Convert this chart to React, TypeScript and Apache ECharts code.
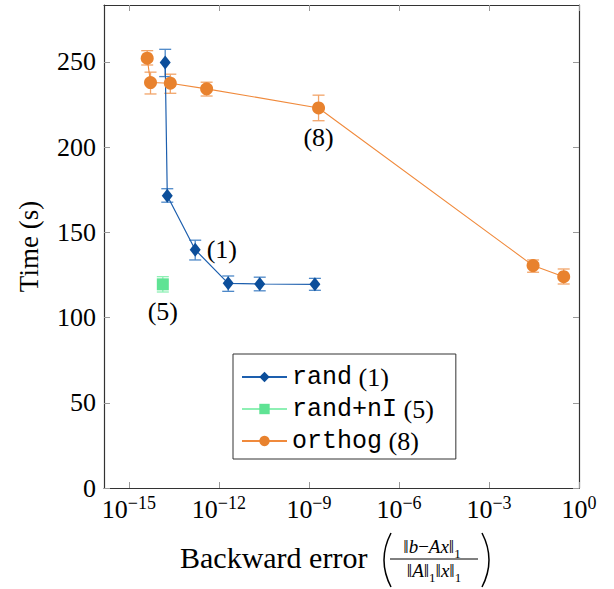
import React, { useEffect, useRef } from 'react';
import * as echarts from 'echarts';

// ---------- data ----------
const xTickExps = [-15, -12, -9, -6, -3, 0];
const yTicks = [0, 50, 100, 150, 200, 250];

const seriesNames = ['rand', 'rand+nI', 'orthog'];
const seriesTags = ['(1)', '(5)', '(8)'];

// rand (1)
const randErr = [1.62e-14, 1.9e-14, 1.62e-13, 2.04e-12, 2.29e-11, 1.58e-9];
const randTime = [249.6, 171.5, 139.8, 120.1, 119.7, 119.5];
const randLow = [241.4, 167.7, 133.8, 115.4, 115.7, 116.0];
const randHigh = [257.4, 175.6, 145.4, 124.4, 123.7, 123.0];
const randTagIndex = 2;

// rand+nI (5)
const randnIErr = [1.35e-14];
const randnITime = [119.5];
const randnILow = [115.0];
const randnIHigh = [124.0];
const randnITagIndex = 0;

// orthog (8)
const orthogErr = [4.07e-15, 5.25e-15, 2.4e-14, 3.89e-13, 2.09e-9, 2.95e-2, 0.309];
const orthogTime = [252.2, 237.9, 237.5, 234.2, 223.0, 130.5, 124.0];
const orthogLow = [248.2, 231.2, 231.6, 230.0, 215.5, 126.6, 119.7];
const orthogHigh = [256.6, 244.0, 242.8, 238.1, 230.5, 133.8, 128.5];
const orthogTagIndex = 4;

const X_MIN = -15.83;
const X_MAX = 0;
const Y_MIN = 0;
const Y_MAX = 283.4;

const SERIF = 'Liberation Serif';
const MONO = 'Liberation Mono';

const BLUE = '#0c4e9a';
const BLUE_LINE = '#1d5fae';
const BLUE_ERR = '#4d88c8';
const GREEN = '#5fe394';
const GREEN_LINE = '#8ef0b4';
const GREEN_ERR = '#8ef0b4';
const ORANGE = '#e8822e';
const ORANGE_LINE = '#f08a3c';
const ORANGE_ERR = '#f2a468';

function errorBars(name: string, xs: number[], lows: number[], highs: number[], color: string) {
  return {
    type: 'custom',
    name,
    xAxisIndex: 0,
    yAxisIndex: 0,
    z: 2,
    silent: true,
    data: xs.map((x, i) => [Math.log10(x), lows[i], highs[i]]),
    encode: { x: 0, y: [1, 2] },
    renderItem: (_params: any, api: any) => {
      const x = api.value(0);
      const lo = api.coord([x, api.value(1)]);
      const hi = api.coord([x, api.value(2)]);
      const hw = 6;
      const st = { stroke: color, lineWidth: 1.3 };
      return {
        type: 'group',
        children: [
          { type: 'line', shape: { x1: lo[0], y1: lo[1], x2: hi[0], y2: hi[1] }, style: st },
          { type: 'line', shape: { x1: lo[0] - hw, y1: lo[1], x2: lo[0] + hw, y2: lo[1] }, style: st },
          { type: 'line', shape: { x1: hi[0] - hw, y1: hi[1], x2: hi[0] + hw, y2: hi[1] }, style: st },
        ],
      };
    },
  };
}

function lineSeries(
  name: string,
  xs: number[],
  ys: number[],
  tagIndex: number,
  tag: string,
  tagPos: string,
  tagDist: number,
  symbol: string,
  symbolSize: any,
  color: string,
  lineColor: string,
  lineWidth: number
) {
  return {
    type: 'line',
    name,
    z: 3,
    symbol,
    symbolSize,
    showSymbol: true,
    lineStyle: { color: lineColor, width: lineWidth },
    itemStyle: { color, borderWidth: 0 },
    emphasis: { disabled: true },
    data: xs.map((x, i) => {
      const item: any = { value: [Math.log10(x), ys[i]] };
      if (i === tagIndex) {
        item.label = {
          show: true,
          position: tagPos,
          distance: tagDist,
          formatter: tag,
          fontSize: 26,
          fontFamily: SERIF,
          color: '#000',
        };
      }
      return item;
    }),
  };
}

const tickColor = '#9a9a9a';
const axisLineStyle = { color: '#333', width: 1.2 };

const fracRich = {
  n: { fontSize: 19, fontFamily: SERIF, fill: '#000', color: '#000', verticalAlign: 'bottom', padding: [0, 0, 4, 0] },
  i: { fontSize: 19, fontFamily: SERIF, fontStyle: 'italic', fill: '#000', color: '#000', verticalAlign: 'bottom', padding: [0, 0, 4, 0] },
  u: { fontSize: 13, fontFamily: SERIF, fill: '#000', color: '#000', verticalAlign: 'bottom' },
};

export default function App() {
  const ref = useRef<HTMLDivElement>(null);

  useEffect(() => {
    if (!ref.current) return;
    const chart = echarts.init(ref.current, undefined, { renderer: 'svg' });

    const tagOf: Record<string, string> = {};
    seriesNames.forEach((n, i) => (tagOf[n] = seriesTags[i]));

    const option: any = {
      animation: false,
      backgroundColor: '#fff',
      textStyle: { fontFamily: SERIF },
      grid: { left: 104, right: 35, top: 5, bottom: 101, containLabel: false },
      xAxis: [
        {
          type: 'value',
          position: 'bottom',
          min: X_MIN,
          max: X_MAX,
          axisLine: { show: true, onZero: false, lineStyle: axisLineStyle },
          axisTick: { show: true, inside: true, length: 6, customValues: xTickExps, lineStyle: { color: tickColor } },
          axisLabel: {
            customValues: xTickExps,
            margin: 6,
            fontFamily: SERIF,
            formatter: (v: number) => {
              const e = Math.round(v);
              return e === 0 ? '{b|10}{s|0}' : `{b|10}{s|\u2212${-e}}`;
            },
            rich: {
              b: { fontSize: 26, fontFamily: SERIF, color: '#000', verticalAlign: 'bottom' },
              s: { fontSize: 18, fontFamily: SERIF, color: '#000', verticalAlign: 'bottom', padding: [0, 0, 10, 0] },
            },
          },
          splitLine: { show: false },
        },
        {
          type: 'value',
          position: 'top',
          min: X_MIN,
          max: X_MAX,
          axisLine: { show: true, onZero: false, lineStyle: axisLineStyle },
          axisTick: { show: true, inside: true, length: 6, customValues: xTickExps, lineStyle: { color: tickColor } },
          axisLabel: { show: false },
          splitLine: { show: false },
        },
      ],
      yAxis: [
        {
          type: 'value',
          position: 'left',
          min: Y_MIN,
          max: Y_MAX,
          name: 'Time (s)',
          nameLocation: 'middle',
          nameGap: 62,
          nameTextStyle: { fontSize: 27, fontFamily: SERIF, color: '#000' },
          axisLine: { show: true, onZero: false, lineStyle: axisLineStyle },
          axisTick: { show: true, inside: true, length: 6, customValues: yTicks, lineStyle: { color: tickColor } },
          axisLabel: { customValues: yTicks, margin: 8, fontSize: 26, fontFamily: SERIF, color: '#000' },
          splitLine: { show: false },
        },
        {
          type: 'value',
          position: 'right',
          min: Y_MIN,
          max: Y_MAX,
          axisLine: { show: true, onZero: false, lineStyle: axisLineStyle },
          axisTick: { show: true, inside: true, length: 6, customValues: yTicks, lineStyle: { color: tickColor } },
          axisLabel: { show: false },
          splitLine: { show: false },
        },
      ],
      legend: {
        data: seriesNames,
        orient: 'vertical',
        left: 233,
        top: 354,
        backgroundColor: '#fff',
        borderColor: '#333',
        borderWidth: 1,
        borderRadius: 0,
        padding: [10, 22, 5, 8],
        itemGap: 6,
        itemWidth: 45,
        itemHeight: 13,
        selectedMode: false,
        formatter: (name: string) => `{m|${name}}{s| ${tagOf[name]}}`,
        textStyle: {
          fontFamily: SERIF,
          rich: {
            m: { fontFamily: MONO, fontSize: 25, color: '#000', lineHeight: 26 },
            s: { fontFamily: SERIF, fontSize: 26, color: '#000', lineHeight: 26 },
          },
        },
      },
      graphic: [
        {
          type: 'text',
          x: 180,
          y: 557,
          style: { text: 'Backward error', fontSize: 30, fontFamily: SERIF, fill: '#000', verticalAlign: 'middle', align: 'left' },
        },
        {
          type: 'bezierCurve',
          shape: { x1: 391, y1: 533, cpx1: 377, cpy1: 560, x2: 391, y2: 587 },
          style: { stroke: '#000', lineWidth: 1.5, fill: null },
        },
        {
          type: 'text',
          x: 432,
          y: 548,
          style: {
            text: '{n|\u2016}{i|b}{n|\u2212}{i|Ax}{n|\u2016}{u|1}',
            fill: '#000',
            align: 'center',
            verticalAlign: 'middle',
            rich: fracRich,
          },
        },
        {
          type: 'line',
          shape: { x1: 390, y1: 559, x2: 478, y2: 559 },
          style: { stroke: '#000', lineWidth: 1 },
        },
        {
          type: 'text',
          x: 434,
          y: 572,
          style: {
            text: '{n|\u2016}{i|A}{n|\u2016}{u|1}{n|\u2016}{i|x}{n|\u2016}{u|1}',
            fill: '#000',
            align: 'center',
            verticalAlign: 'middle',
            rich: fracRich,
          },
        },
        {
          type: 'bezierCurve',
          shape: { x1: 482, y1: 533, cpx1: 496, cpy1: 560, x2: 482, y2: 587 },
          style: { stroke: '#000', lineWidth: 1.5, fill: null },
        },
      ],
      series: [
        errorBars('rand-err', randErr, randLow, randHigh, BLUE_ERR),
        errorBars('rand+nI-err', randnIErr, randnILow, randnIHigh, GREEN_ERR),
        errorBars('orthog-err', orthogErr, orthogLow, orthogHigh, ORANGE_ERR),
        lineSeries(seriesNames[0], randErr, randTime, randTagIndex, seriesTags[0], 'right', 6, 'diamond', [11, 14], BLUE, BLUE_LINE, 1.2),
        lineSeries(seriesNames[1], randnIErr, randnITime, randnITagIndex, seriesTags[1], 'bottom', 8, 'rect', 12, GREEN, GREEN_LINE, 1.5),
        lineSeries(seriesNames[2], orthogErr, orthogTime, orthogTagIndex, seriesTags[2], 'bottom', 10, 'circle', 13, ORANGE, ORANGE_LINE, 1.1),
      ],
    };

    chart.setOption(option);
    return () => chart.dispose();
  }, []);

  return (
    <div
      ref={ref}
      style={{ position: 'fixed', left: 0, top: 0, width: 614, height: 589, background: '#fff' }}
    />
  );
}
